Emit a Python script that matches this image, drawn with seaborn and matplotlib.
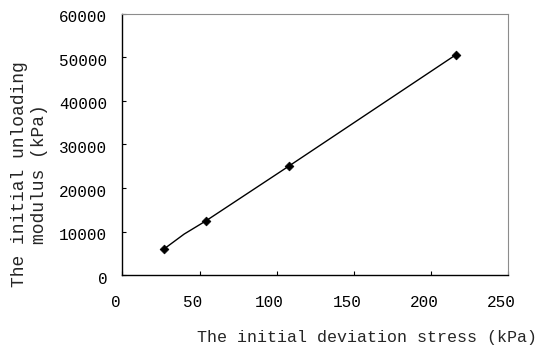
import matplotlib
matplotlib.use('Agg')
from matplotlib import pyplot as plt
from matplotlib.transforms import ScaledTranslation
import seaborn as sns

# measured points (initial deviation stress vs initial unloading modulus)
stress = [27, 54, 108, 216]
modulus = [6050, 12450, 25050, 50500]

# the drawn curve has a small bend between the first two points
curve_x = [27, 40, 54, 108, 216]
curve_y = [6050, 9450, 12450, 25050, 50500]

x_ticks = [0, 50, 100, 150, 200, 250]
y_ticks = [0, 10000, 20000, 30000, 40000, 50000, 60000]

sns.set_style('ticks')
plt.rcParams['font.family'] = ['Liberation Mono', 'Noto Sans CJK SC']

fig = plt.figure(figsize=(5.37, 3.49), dpi=100)
ax = fig.add_axes([0.2281, 0.2112, 0.7179, 0.7501])

sns.lineplot(x=curve_x, y=curve_y, sort=False, color='black', linewidth=1.0, ax=ax)
sns.scatterplot(x=stress, y=modulus, marker='D', s=20, color='black',
                edgecolor='black', linewidth=0.5, zorder=3, ax=ax)

ax.set_xlim(0, 250)
ax.set_ylim(0, 60000)
ax.set_xticks(x_ticks)
ax.set_yticks(y_ticks)
ax.set_xticklabels([str(v) for v in x_ticks])
ax.set_yticklabels([str(v) for v in y_ticks])

ax.tick_params(direction='in', length=3, width=0.8, colors='black',
               top=False, right=False, labelsize=11.5)
ax.tick_params(axis='x', pad=14)
ax.tick_params(axis='y', pad=11)

# Excel-like label offsets
for lab in ax.get_xticklabels():
    lab.set_transform(lab.get_transform() + ScaledTranslation(-7 / 100, 0, fig.dpi_scale_trans))
for lab in ax.get_yticklabels():
    lab.set_transform(lab.get_transform() + ScaledTranslation(0, -2.5 / 100, fig.dpi_scale_trans))

for side in ['left', 'bottom']:
    ax.spines[side].set_color('black')
    ax.spines[side].set_linewidth(1.0)
for side in ['top', 'right']:
    ax.spines[side].set_visible(True)
    ax.spines[side].set_color('#8c8c8c')
    ax.spines[side].set_linewidth(0.8)

ax.grid(False)

ax.set_xlabel('The initial deviation stress (kPa)', fontsize=12, va='center')
ax.xaxis.set_label_coords(0.634, -0.2376)
ax.set_ylabel('The initial unloading\nmodulus (kPa)', fontsize=13,
              va='center', ha='center', linespacing=1.2)
ax.yaxis.set_label_coords(-0.241, 0.387)

fig.savefig('out.png', dpi=100)
